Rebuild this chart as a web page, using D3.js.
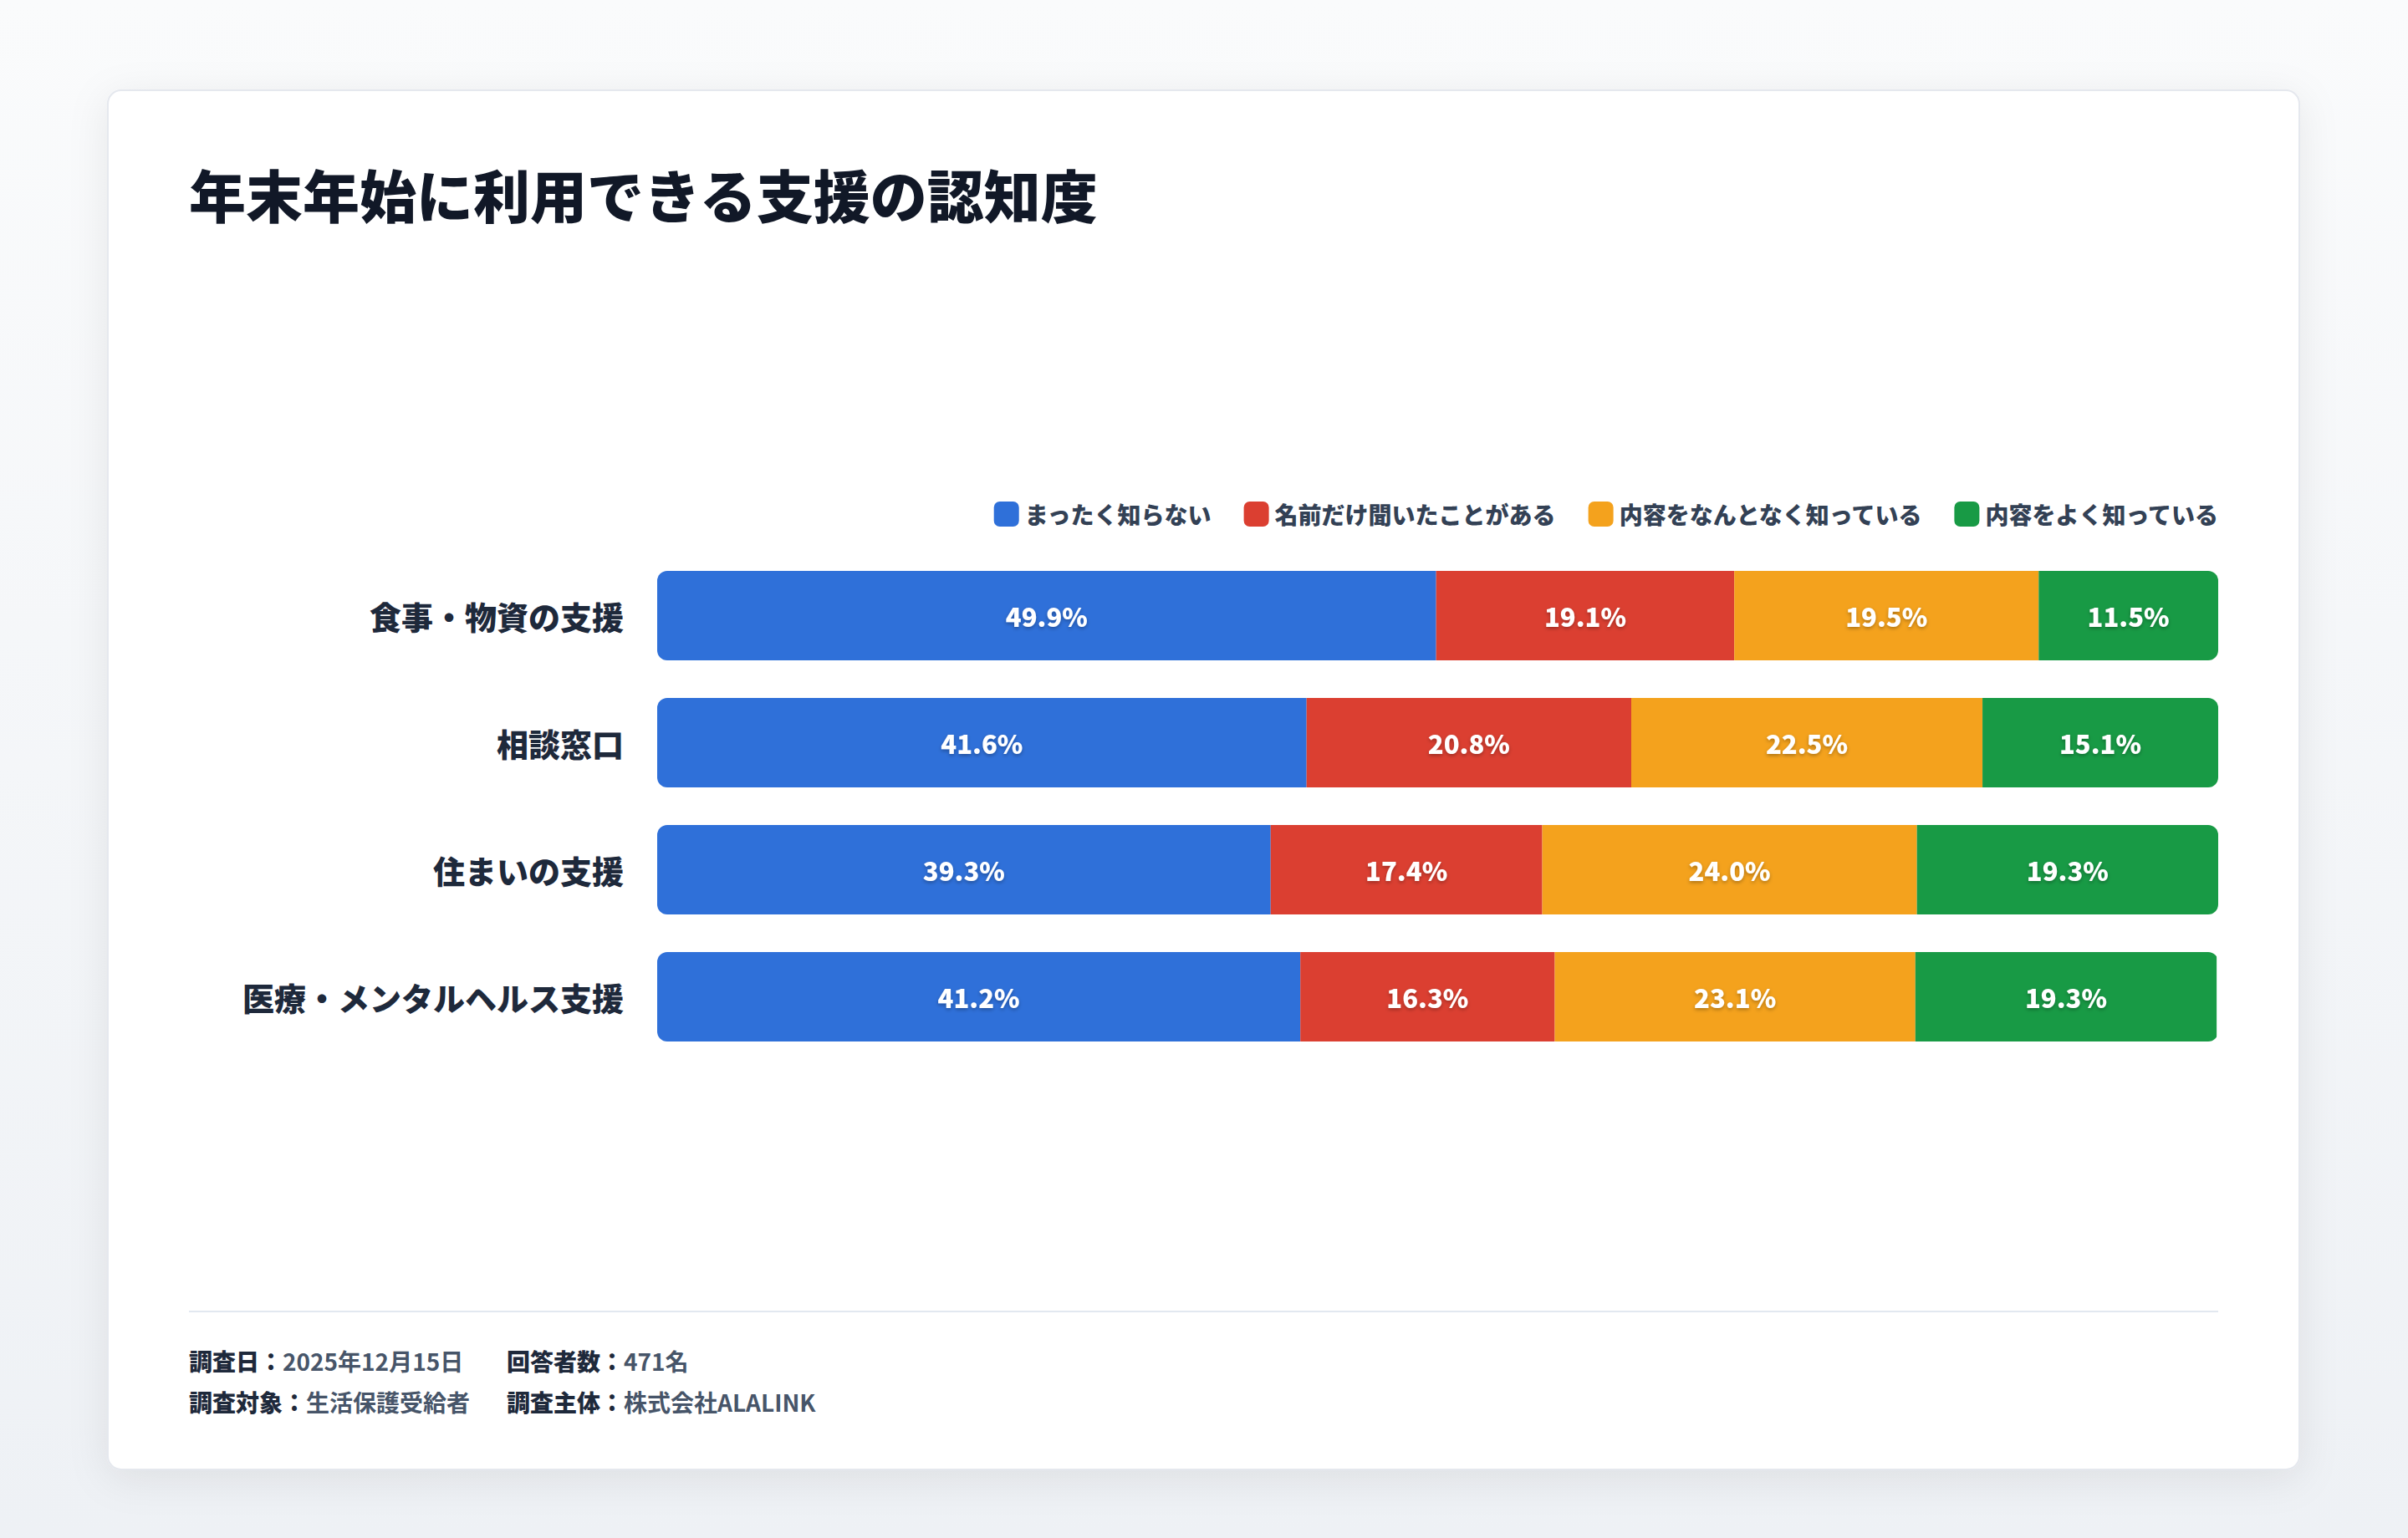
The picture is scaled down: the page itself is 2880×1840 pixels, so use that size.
<!DOCTYPE html>
<html lang="ja">
<head>
<meta charset="utf-8">
<script src="https://cdn.jsdelivr.net/npm/d3@7"></script>
<style>
html, body { margin: 0; padding: 0; background: #f3f5f8; }
svg { display: block; font-family: "Noto Sans CJK JP", "Noto Sans", sans-serif; }
</style>
</head>
<body>
<div id="chart"></div>
<script>
// データ
const categories = ["食事・物資の支援", "相談窓口", "住まいの支援", "医療・メンタルヘルス支援"];
const seriesNames = ["まったく知らない", "名前だけ聞いたことがある", "内容をなんとなく知っている", "内容をよく知っている"];
const seriesColors = ["#2f70d9", "#db3f31", "#f4a21d", "#189a45"];
const notKnown = [49.9, 41.6, 39.3, 41.2];
const nameOnly = [19.1, 20.8, 17.4, 16.3];
const somewhat = [19.5, 22.5, 24.0, 23.1];
const wellKnown = [11.5, 15.1, 19.3, 19.3];
const footerItems = [
    ["調査日：", "2025年12月15日"], ["回答者数：", "471名"],
    ["調査対象：", "生活保護受給者"], ["調査主体：", "株式会社ALALINK"]
];

const W = 2880, H = 1840;
const card = { x: 129, y: 108, w: 2621, h: 1650 };
const margin = { left: 786, right: 2653, top: 683 };

const svg = d3.select("#chart").append("svg")
    .attr("width", W).attr("height", H);

const defs = svg.append("defs");
const bg = defs.append("linearGradient").attr("id", "bg").attr("x1", 0).attr("y1", 0).attr("x2", 0).attr("y2", 1);
bg.append("stop").attr("offset", "0%").attr("stop-color", "#fafbfc");
bg.append("stop").attr("offset", "100%").attr("stop-color", "#eef1f5");

const shadow = defs.append("filter").attr("id", "cardShadow")
    .attr("x", "-10%").attr("y", "-10%").attr("width", "120%").attr("height", "130%");
shadow.append("feDropShadow").attr("dx", 0).attr("dy", 10).attr("stdDeviation", 24)
    .attr("flood-color", "#0f172a").attr("flood-opacity", 0.08);

const txtShadow = defs.append("filter").attr("id", "txtShadow")
    .attr("x", "-20%").attr("y", "-40%").attr("width", "140%").attr("height", "180%");
txtShadow.append("feDropShadow").attr("dx", 0).attr("dy", 2).attr("stdDeviation", 2)
    .attr("flood-color", "#000").attr("flood-opacity", 0.3);

svg.append("rect").attr("width", W).attr("height", H).attr("fill", "url(#bg)");

svg.append("rect")
    .attr("x", card.x).attr("y", card.y).attr("width", card.w).attr("height", card.h)
    .attr("rx", 16)
    .attr("fill", "#fff")
    .attr("stroke", "#e5e8ee").attr("stroke-width", 2)
    .attr("filter", "url(#cardShadow)");

// タイトル
svg.append("text")
    .attr("x", 226).attr("y", 231)
    .attr("dominant-baseline", "central")
    .attr("font-size", 68).attr("font-weight", 900)
    .attr("fill", "#111827")
    .text("年末年始に利用できる支援の認知度");

// データを行ごとにまとめる
const rows = categories.map((c, i) => {
    const vals = [notKnown[i], nameOnly[i], somewhat[i], wellKnown[i]];
    let acc = 0;
    return {
        category: c,
        segs: vals.map((v, k) => { const s = { key: seriesNames[k], x0: acc, x1: acc + v, v: v, k: k }; acc += v; return s; })
    };
});

const x = d3.scaleLinear().domain([0, 100]).range([margin.left, margin.right]);
const y = d3.scaleBand().domain(categories)
    .range([margin.top, margin.top + 563])
    .paddingInner(0.296).paddingOuter(0);

// 凡例 (右寄せ)
const legend = svg.append("g");
const legendItems = legend.selectAll("g").data(seriesNames).enter().append("g");
legendItems.append("rect")
    .attr("width", 30).attr("height", 30).attr("rx", 7)
    .attr("y", -15)
    .attr("fill", (d, i) => seriesColors[i]);
legendItems.append("text")
    .attr("x", 37).attr("y", 0)
    .attr("dominant-baseline", "central")
    .attr("font-size", 28).attr("font-weight", 900)
    .attr("fill", "#334155")
    .text(d => d);
let lx = margin.right;
const widths = [];
legendItems.each(function () { widths.push(this.getBBox().width); });
for (let i = widths.length - 1; i >= 0; i--) {
    lx -= widths[i];
    widths[i] = lx;
    lx -= 39;
}
legendItems.attr("transform", (d, i) => `translate(${widths[i]},615)`);

// 棒
const rowG = svg.selectAll(".row").data(rows).enter().append("g").attr("class", "row");

rowG.append("clipPath")
    .attr("id", (d, i) => "clip" + i)
    .append("rect")
    .attr("x", x(0)).attr("y", d => y(d.category))
    .attr("width", x(100) - x(0)).attr("height", y.bandwidth())
    .attr("rx", 12);

const segG = rowG.append("g").attr("clip-path", (d, i) => `url(#clip${i})`);
segG.selectAll("rect").data(d => d.segs.map(s => Object.assign({ category: d.category }, s)))
    .enter().append("rect")
    .attr("x", d => x(d.x0))
    .attr("y", d => y(d.category))
    .attr("width", d => x(d.x1) - x(d.x0))
    .attr("height", y.bandwidth())
    .attr("fill", d => seriesColors[d.k]);

rowG.selectAll(".val").data(d => d.segs.map(s => Object.assign({ category: d.category }, s)))
    .enter().append("text")
    .attr("class", "val")
    .attr("x", d => (x(d.x0) + x(d.x1)) / 2)
    .attr("y", d => y(d.category) + y.bandwidth() / 2)
    .attr("text-anchor", "middle")
    .attr("dominant-baseline", "central")
    .attr("font-size", 31).attr("font-weight", 900)
    .attr("fill", "#fff")
    .attr("filter", "url(#txtShadow)")
    .text(d => d.v.toFixed(1) + "%");

// カテゴリラベル
rowG.append("text")
    .attr("x", margin.left - 40)
    .attr("y", d => y(d.category) + y.bandwidth() / 2)
    .attr("text-anchor", "end")
    .attr("dominant-baseline", "central")
    .attr("font-size", 38).attr("font-weight", 900)
    .attr("fill", "#1e293b")
    .text(d => d.category);

// フッター
svg.append("line")
    .attr("x1", 226).attr("x2", margin.right)
    .attr("y1", 1569).attr("y2", 1569)
    .attr("stroke", "#e2e8f0").attr("stroke-width", 2);

const footer = svg.selectAll(".foot").data(footerItems).enter().append("text")
    .attr("class", "foot")
    .attr("x", (d, i) => i % 2 === 0 ? 226 : 606)
    .attr("y", (d, i) => i < 2 ? 1628 : 1677)
    .attr("dominant-baseline", "central")
    .attr("font-size", 28);
footer.append("tspan").attr("font-weight", 900).attr("fill", "#1e293b").text(d => d[0]);
footer.append("tspan").attr("font-weight", 700).attr("fill", "#475569").text(d => d[1]);
</script>
</body>
</html>
